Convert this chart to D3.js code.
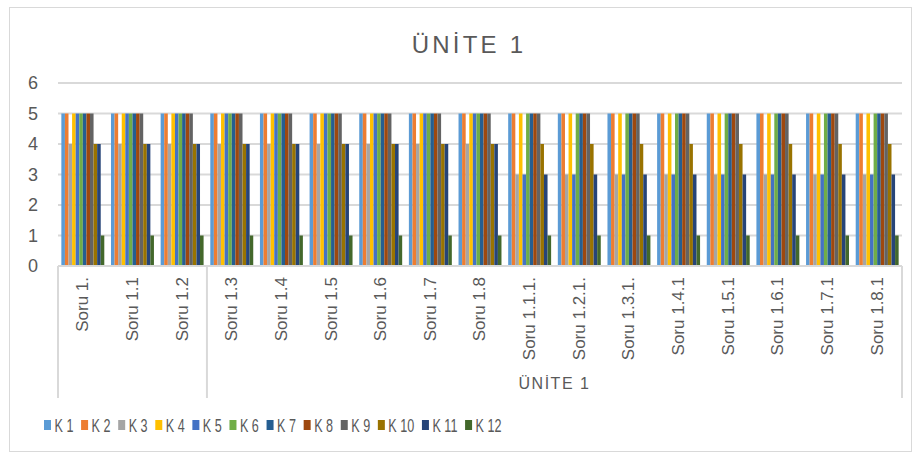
<!DOCTYPE html>
<html><head><meta charset="utf-8">
<script src="https://cdn.jsdelivr.net/npm/d3@7"></script>
<style>body{margin:0;background:#fff}svg{display:block}text{font-family:"Liberation Sans",Arial,sans-serif;fill:#595959}</style>
</head><body><svg id="c" width="917" height="455"></svg>
<script>
const categories = ["Soru 1.","Soru 1.1","Soru 1.2","Soru 1.3","Soru 1.4","Soru 1.5","Soru 1.6","Soru 1.7","Soru 1.8","Soru 1.1.1.","Soru 1.2.1.","Soru 1.3.1.","Soru 1.4.1","Soru 1.5.1","Soru 1.6.1","Soru 1.7.1","Soru 1.8.1"];
const seriesNames = ["K 1","K 2","K 3","K 4","K 5","K 6","K 7","K 8","K 9","K 10","K 11","K 12"];
const colors = ["#5B9BD5","#ED7D31","#A5A5A5","#FFC000","#4472C4","#70AD47","#255E91","#9E480E","#636363","#997300","#264478","#43682B"];
// values per series, one per category
const K1  = [5,5,5,5,5,5,5,5,5,5,5,5,5,5,5,5,5];
const K2  = [5,5,5,5,5,5,5,5,5,5,5,5,5,5,5,5,5];
const K3  = [4,4,4,4,4,4,4,4,4,3,3,3,3,3,3,3,3];
const K4  = [5,5,5,5,5,5,5,5,5,5,5,5,5,5,5,5,5];
const K5  = [5,5,5,5,5,5,5,5,5,3,3,3,3,3,3,3,3];
const K6  = [5,5,5,5,5,5,5,5,5,5,5,5,5,5,5,5,5];
const K7  = [5,5,5,5,5,5,5,5,5,5,5,5,5,5,5,5,5];
const K8  = [5,5,5,5,5,5,5,5,5,5,5,5,5,5,5,5,5];
const K9  = [5,5,5,5,5,5,5,5,5,5,5,5,5,5,5,5,5];
const K10 = [4,4,4,4,4,4,4,4,4,4,4,4,4,4,4,4,4];
const K11 = [4,4,4,4,4,4,4,4,4,3,3,3,3,3,3,3,3];
const K12 = [1,1,1,1,1,1,1,1,1,1,1,1,1,1,1,1,1];
const seriesValues = [K1,K2,K3,K4,K5,K6,K7,K8,K9,K10,K11,K12];
const yTicks = [0,1,2,3,4,5,6];
const groups = [{name:"",count:3},{name:"ÜNİTE 1",count:14}];
const title = "ÜNİTE 1";

const svg = d3.select("#c");
const L = 58, R = 902, T = 83, B = 266;

svg.append("rect").attr("x",9.5).attr("y",7.5).attr("width",902).attr("height",444)
  .attr("fill","#fff").attr("stroke","#d9d9d9").attr("stroke-width",1);

svg.append("text").attr("x",469).attr("y",53).attr("text-anchor","middle")
  .attr("font-size",24).attr("letter-spacing",3.2).text(title);

const y = d3.scaleLinear().domain([0,6]).range([B,T]);
const x0 = d3.scaleBand().domain(categories).range([L,R]).paddingInner(0.135).paddingOuter(0.0675);
const x1 = d3.scaleBand().domain(seriesNames).range([0,x0.bandwidth()]);

// gridlines
svg.append("g").selectAll("line").data(yTicks.filter(d=>d>0)).join("line")
  .attr("x1",L).attr("x2",R).attr("y1",d=>y(d)).attr("y2",d=>y(d))
  .attr("stroke","#d9d9d9").attr("stroke-width",2);

// y labels
const yAxis = d3.axisLeft(y).tickValues(yTicks).tickFormat(d3.format("d")).tickSize(0).tickPadding(0);
const ya = svg.append("g").attr("transform",`translate(38,0)`).call(yAxis);
ya.select(".domain").remove();
ya.selectAll("text").attr("font-size",18).attr("fill","#595959")
  .attr("font-family","Liberation Sans, Arial, sans-serif");

// bars
const gBars = svg.append("g");
categories.forEach((c,ci)=>{
  seriesNames.forEach((s,si)=>{
    const v = seriesValues[si][ci];
    gBars.append("rect").attr("x",x0(c)+x1(s)).attr("y",y(v))
      .attr("width",x1.bandwidth()).attr("height",y(0)-y(v)).attr("fill",colors[si]);
  });
});

// x axis line
svg.append("line").attr("x1",L).attr("x2",R).attr("y1",B).attr("y2",B)
  .attr("stroke","#d9d9d9").attr("stroke-width",2);

// group separators
const step = x0.step();
let acc = 0;
const seps = [0];
groups.forEach(g=>{acc+=g.count; seps.push(acc);});
svg.append("g").selectAll("line").data(seps).join("line")
  .attr("x1",d=>L+d*step).attr("x2",d=>L+d*step).attr("y1",B).attr("y2",398)
  .attr("stroke","#d9d9d9").attr("stroke-width",2);

// category labels
svg.append("g").selectAll("text").data(categories).join("text")
  .attr("transform",d=>`translate(${x0(d)+x0.bandwidth()/2+1},277) rotate(-90)`)
  .attr("text-anchor","end").attr("dominant-baseline","middle")
  .attr("font-size",17).text(d=>d);

// group labels
acc = 0;
groups.forEach(g=>{
  const cx = L+(acc+g.count/2)*step;
  acc += g.count;
  if(g.name) svg.append("text").attr("x",cx).attr("y",389).attr("text-anchor","middle")
    .attr("font-size",16).attr("letter-spacing",1.5).text(g.name);
});

// legend (horizontally condensed)
const lg = svg.append("g").attr("transform","translate(44,0) scale(0.7,1)");
let lx = 0;
seriesNames.forEach((s,i)=>{
  lg.append("rect").attr("x",lx).attr("y",420).attr("width",10).attr("height",10).attr("fill",colors[i]);
  const t = lg.append("text").attr("x",lx+15).attr("y",432).attr("font-size",18).text(s);
  const w = t.node().getComputedTextLength();
  lx += 15 + w + 11;
});
</script></body></html>
